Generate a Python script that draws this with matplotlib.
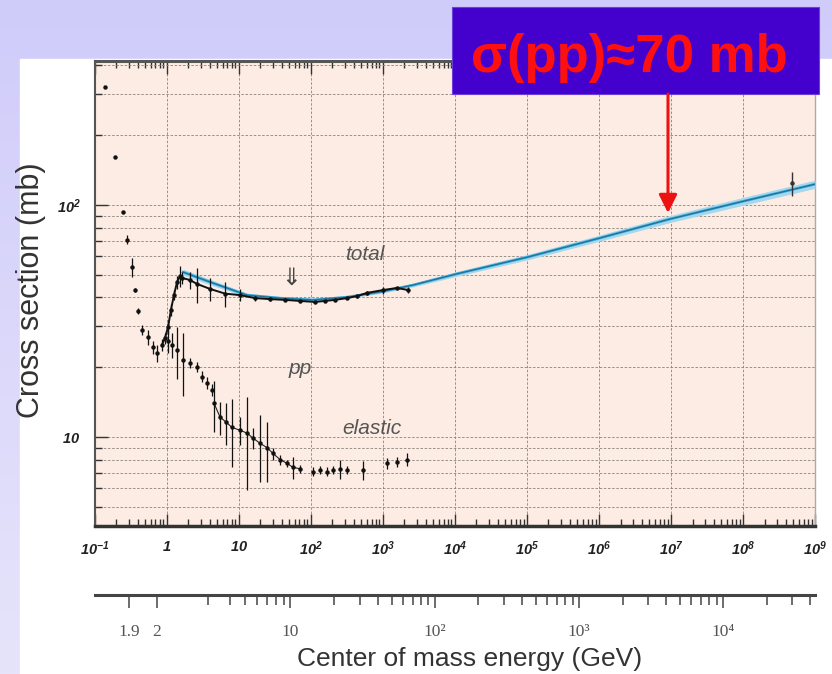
import matplotlib
matplotlib.use("Agg")
import matplotlib.pyplot as plt
import numpy as np
from matplotlib.patches import Rectangle, FancyArrowPatch
from matplotlib.ticker import FixedLocator, FuncFormatter, LogLocator, NullFormatter

plt.rcParams['font.family'] = ['Liberation Sans', 'DejaVu Sans']
plt.rcParams['mathtext.fontset'] = 'custom'
plt.rcParams['mathtext.rm'] = 'Liberation Sans:bold:italic'
plt.rcParams['mathtext.it'] = 'Liberation Sans:bold:italic'
plt.rcParams['mathtext.bf'] = 'Liberation Sans:bold:italic'

# low energy points (total = elastic here), p_lab in GeV/c, sigma in mb
low_p = [0.14, 0.193, 0.249, 0.283, 0.331, 0.365, 0.40, 0.456, 0.553, 0.649, 0.737]
low_sig = [323, 161, 93, 71, 54, 43, 35, 28.9, 27, 24.4, 23]
low_err = [0, 0, 0, 3, 5, 1, 1, 1.5, 2, 1.5, 2]

# total cross section data
tot_p = [0.865, 0.95, 1.05, 1.15, 1.27, 1.40, 1.54, 1.64, 2.11, 2.65, 4.0, 6.5, 10.4, 16.9,
         27.3, 44, 71, 115, 158, 218, 320, 440, 605, 1010, 1580, 2250]
tot_sig = [25, 26.7, 29.8, 35.3, 41, 46.6, 49.4, 48.5, 47.5, 45.7, 43.5, 41.5, 40.9, 39.7,
           39.3, 39.0, 38.6, 38.2, 38.6, 39.0, 39.7, 40.5, 41.8, 43, 43.9, 43]
tot_err = [1.5, 1.5, 2, 2, 2, 3, 5, 3, 4, 8, 5, 5, 2.5, 1, 0.8, 0.6, 0.5, 0.5, 0.5, 0.5,
           0.5, 0.6, 0.8, 1.5, 0.6, 1.2]

# cosmic ray point
cr_p = [4.8e8]
cr_sig = [124]
cr_err = [15]

# elastic cross section data
el_p = [1.05, 1.19, 1.40, 1.69, 2.11, 2.65, 3.1, 3.64, 4.27, 4.55, 5.52, 6.68, 8.1, 10.4, 13.1,
        15.8, 19.8, 24.8, 30, 37.5, 47, 56.9, 71, 108, 135, 169, 204, 255, 320, 533, 1150,
        1580, 2170]
el_sig = [26, 25, 23.7, 21.5, 20.8, 20.1, 18.2, 17.1, 16.0, 14.0, 12.2, 11.6, 11.0, 10.7,
          10.4, 9.9, 9.4, 9.0, 8.5, 8.0, 7.7, 7.4, 7.3, 7.1, 7.2, 7.1, 7.2, 7.3, 7.2, 7.2,
          7.7, 7.8, 8.0]
el_err = [3, 3, 6, 6.5, 1, 1, 1, 1, 1, 3.5, 2, 2.4, 3.6, 1.5, 4.5, 1, 3, 2.6, 0.5, 0.4, 0.3,
          0.8, 0.3, 0.3, 0.3, 0.3, 0.3, 0.7, 0.3, 0.7, 0.4, 0.4, 0.5]

# fit band
fit_p = [1.69, 4.4, 13.1, 37.5, 108, 320, 918, 2640, 1.07e4, 1.04e5, 1.04e6, 9.7e6, 9.1e7, 1e9]
fit_sig = [51.4, 46.1, 40.9, 39.7, 39.0, 40.1, 42.2, 45.2, 50.5, 59.7, 72.1, 87.0, 103, 123]
fit_err = [1.5, 1.2, 0.8, 0.6, 0.5, 0.5, 0.6, 0.8, 1.2, 1.6, 2.2, 3.0, 4.0, 5.0]

xtick_vals = [1e-1, 1, 10, 1e2, 1e3, 1e4, 1e5, 1e6, 1e7, 1e8, 1e9]
xtick_labels = ['$10^{-1}$', '$1$', '$10$', '$10^{2}$', '$10^{3}$', '$10^{4}$', '$10^{5}$',
                '$10^{6}$', '$10^{7}$', '$10^{8}$', '$10^{9}$']
ytick_vals = [10, 100]
ytick_labels = ['$10$', '$10^{2}$']
rs_major = [1.9, 2, 10, 100, 1000, 10000]
rs_labels = ['1.9', '2', '10', '10²', '10³', '10⁴']
rs_minor = [3, 4, 5, 6, 7, 8, 9, 20, 30, 40, 50, 60, 70, 80, 90, 200, 300, 400, 500, 600,
            700, 800, 900, 2000, 3000, 4000, 5000, 6000, 7000, 8000, 9000, 20000, 30000, 40000]

M = 0.938


def p_to_rs(p):
    p = np.maximum(np.asarray(p, dtype=float), 1e-9)
    return np.sqrt(2 * M * M + 2 * M * np.sqrt(p * p + M * M))


def rs_to_p(rs):
    s = np.asarray(rs, dtype=float) ** 2
    e = np.maximum((s - 2 * M * M) / (2 * M), M * 1.000001)
    return np.sqrt(e * e - M * M)


W, H = 832, 674
fig = plt.figure(figsize=(W / 100, H / 100), dpi=100)

# slide background
bg = fig.add_axes([0, 0, 1, 1], zorder=0)
bg.set_xlim(0, W)
bg.set_ylim(H, 0)
bg.axis('off')
top_c = np.array([208, 204, 250]) / 255
bot_c = np.array([230, 228, 251]) / 255
t = np.linspace(0, 1, 200)[:, None, None]
grad = top_c * (1 - t) + bot_c * t
bg.imshow(grad, extent=[0, W, H, 0], aspect='auto')
bg.add_patch(Rectangle((20, 59), W - 20, H - 59, color='white'))

# main plot
ax = fig.add_axes([94.5 / W, 1 - 526 / H, (815 - 94.5) / W, (526 - 61) / H], zorder=2)
ax.set_facecolor('#fcece3')
ax.set_xscale('log')
ax.set_yscale('log')
ax.set_xlim(0.1, 1e9)
ax.set_ylim(4.135, 417.6)

ax.fill_between(fit_p, np.array(fit_sig) - np.array(fit_err), np.array(fit_sig) + np.array(fit_err),
                color='#a3d8ee', lw=0, zorder=3)
ax.plot(fit_p, fit_sig, color='#2fa3d3', lw=1.8, zorder=4)
ax.plot(fit_p, fit_sig, color='#2a5f80', lw=0.6, zorder=4)

ax.plot(tot_p, tot_sig, color='#111', lw=1.4, zorder=5)
ax.errorbar(tot_p, tot_sig, yerr=tot_err, fmt='o', ms=2.2, color='#111', elinewidth=0.9,
            capsize=0, zorder=5)
ax.errorbar(low_p, low_sig, yerr=low_err, fmt='o', ms=2.2, color='#111', elinewidth=0.9,
            capsize=0, zorder=5)
ax.plot(el_p[9:23], el_sig[9:23], color='#222', lw=0.8, zorder=5)
ax.errorbar(el_p, el_sig, yerr=el_err, fmt='o', ms=2.2, color='#111', elinewidth=0.9,
            capsize=0, zorder=5)
ax.errorbar(cr_p, cr_sig, yerr=cr_err, fmt='o', ms=2.2, color='#333', elinewidth=1.0,
            capsize=0, zorder=5)

ax.text(568, 60.9, 'total', style='italic', fontsize=15, color='#555', ha='center', va='center')
ax.text(71, 19.8, 'pp', style='italic', fontsize=15, color='#555', ha='center', va='center')
ax.text(711, 10.9, 'elastic', style='italic', fontsize=15, color='#555', ha='center', va='center')
ax.text(53, 48.4, '⇓', fontsize=17, color='#444', ha='center', va='center', family='DejaVu Sans')

gls = dict(ls=(0, (3, 2)), color='#8c817c', lw=0.6)
ax.xaxis.set_major_locator(FixedLocator(xtick_vals))
ax.xaxis.set_minor_locator(LogLocator(base=10, subs=np.arange(2, 10), numticks=100))
ax.yaxis.set_major_locator(FixedLocator(ytick_vals))
ax.yaxis.set_minor_locator(LogLocator(base=10, subs=np.arange(2, 10), numticks=100))
ax.xaxis.set_major_formatter(FuncFormatter(lambda v, i: xtick_labels[xtick_vals.index(v)] if v in xtick_vals else ''))
ax.yaxis.set_major_formatter(FuncFormatter(lambda v, i: ytick_labels[ytick_vals.index(v)] if v in ytick_vals else ''))
ax.xaxis.set_minor_formatter(NullFormatter())
ax.yaxis.set_minor_formatter(NullFormatter())
ax.grid(True, which='major', axis='x', **gls)
ax.grid(True, which='both', axis='y', **gls)
ax.set_axisbelow(True)
ax.tick_params(which='both', direction='in', top=True, bottom=True, left=True, right=False,
               color='#333', width=1)
ax.tick_params(which='major', length=9, labelsize=10.5, pad=10, labelcolor='#222')
ax.tick_params(which='minor', length=5)
for side, lw, c in [('top', 2.2, '#555'), ('bottom', 2.5, '#333'), ('left', 1.5, '#555'),
                    ('right', 1.0, '#aaa')]:
    ax.spines[side].set_linewidth(lw)
    ax.spines[side].set_color(c)

# centre of mass energy axis
sec = ax.secondary_xaxis(-0.148, functions=(p_to_rs, rs_to_p))
sec.xaxis.set_major_locator(FixedLocator(rs_major))
sec.xaxis.set_minor_locator(FixedLocator(rs_minor))
sec.xaxis.set_major_formatter(FuncFormatter(lambda v, i: rs_labels[i] if i is not None and i < len(rs_labels) else ''))
sec.xaxis.set_minor_formatter(NullFormatter())
sec.spines['bottom'].set_linewidth(2.2)
sec.spines['bottom'].set_color('#444')
sec.tick_params(which='both', direction='out', color='#444', width=1.1)
sec.tick_params(which='major', length=9, pad=12, labelsize=12.5, labelcolor='#555')
sec.tick_params(which='minor', length=7)
for lab in sec.get_xticklabels():
    lab.set_family(['Liberation Serif', 'DejaVu Serif'])

fig.text(470 / W, 1 - 659 / H, 'Center of mass energy (GeV)', fontsize=19, color='#333',
         ha='center', va='center')
fig.text(31 / W, 1 - 290 / H, 'Cross section (mb)', fontsize=22, color='#333', rotation=90,
         ha='center', va='center')

# title box and arrow overlay
ov = fig.add_axes([0, 0, 1, 1], zorder=5)
ov.set_xlim(0, W)
ov.set_ylim(H, 0)
ov.axis('off')
ov.patch.set_alpha(0)
ov.add_patch(Rectangle((452, 7), 367, 87, facecolor='#4400cc', edgecolor='#6a40d8', lw=0.8))
ov.text(629, 72, 'σ(pp)≈70 mb', fontsize=38, fontweight='bold', color='#ff1010',
        ha='center', va='baseline')
ov.add_patch(FancyArrowPatch((668, 94), (668, 213), arrowstyle='-|>,head_length=1.1,head_width=0.55',
                             mutation_scale=10, color='#ee1111', lw=2.2, shrinkA=0, shrinkB=0))

fig.savefig('out.png', dpi=100)
